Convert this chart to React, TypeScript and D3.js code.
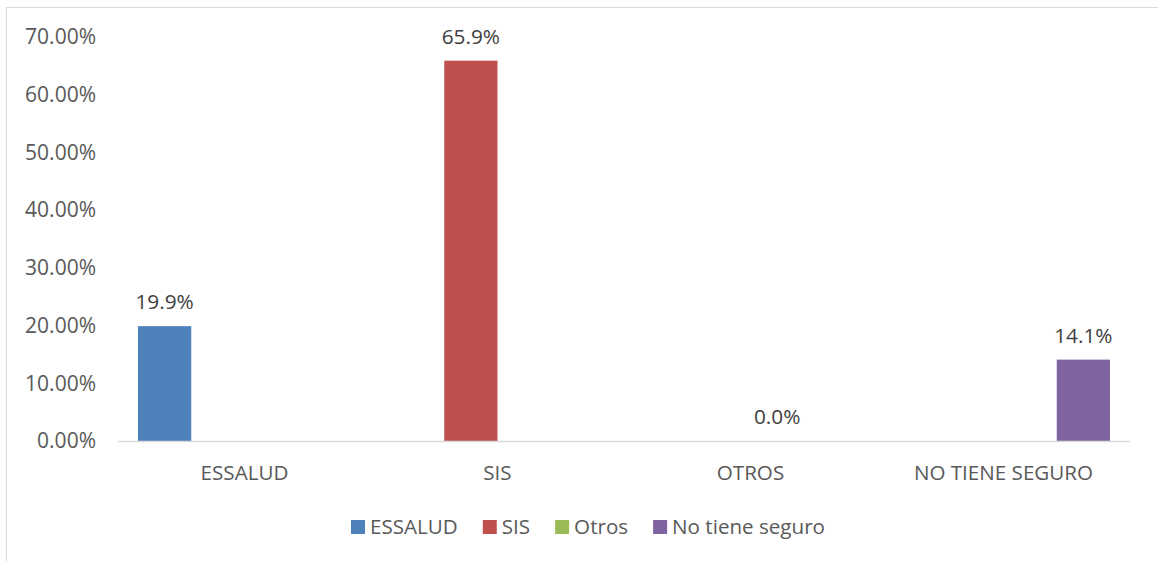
import { useEffect, useRef } from 'react'
import * as d3 from 'd3'

const categories = ['ESSALUD', 'SIS', 'OTROS', 'NO TIENE SEGURO']
const seriesNames = ['ESSALUD', 'SIS', 'Otros', 'No tiene seguro']
const seriesColors = ['#4f81bd', '#c0504d', '#9bbb59', '#8064a2']
// each category only carries its own series value
const values = [19.9, 65.9, 0.0, 14.1]
const yTicks = [0, 10, 20, 30, 40, 50, 60, 70]

const W = 1158
const H = 561
const FONT = '"Open Sans", sans-serif'

export default function App() {
  const svgRef = useRef<SVGSVGElement>(null)

  useEffect(() => {
    if (!svgRef.current) return
    const svg = d3.select(svgRef.current)
    svg.selectAll('*').remove()

    const margin = { left: 118, right: 28, top: 37, bottom: 120 }
    const innerW = W - margin.left - margin.right
    const innerH = H - margin.top - margin.bottom

    // chart frame (runs off the right / bottom edges)
    svg.append('rect')
      .attr('x', 6.5).attr('y', 7.5)
      .attr('width', W + 20).attr('height', H + 20)
      .attr('fill', '#fff')
      .attr('stroke', '#d9d9d9')

    const x0 = d3.scaleBand().domain(categories).range([0, innerW]).paddingInner(0).paddingOuter(0)
    const x1 = d3.scaleBand().domain(seriesNames).range([0, x0.bandwidth()])
      .paddingInner(0).paddingOuter(0.3756)
    const y = d3.scaleLinear().domain([0, 70]).range([innerH, 0])

    const g = svg.append('g').attr('transform', `translate(${margin.left},${margin.top})`)

    // y tick labels
    g.selectAll('.ytick')
      .data(yTicks)
      .enter().append('text')
      .attr('x', -22)
      .attr('y', d => y(d))
      .attr('dy', '0.35em')
      .attr('text-anchor', 'end')
      .style('font-family', FONT)
      .style('font-size', '21px')
      .style('fill', '#595959')
      .text(d => d.toFixed(2) + '%')

    // bars
    categories.forEach((c, i) => {
      const s = seriesNames[i]
      const bx = x0(c)! + x1(s)!
      g.append('rect')
        .attr('x', bx)
        .attr('y', y(values[i]))
        .attr('width', x1.bandwidth())
        .attr('height', innerH - y(values[i]))
        .attr('fill', seriesColors[i])

      g.append('text')
        .attr('x', bx + x1.bandwidth() / 2)
        .attr('y', y(values[i]) - 24)
        .attr('dy', '0.35em')
        .attr('text-anchor', 'middle')
        .style('font-family', FONT)
        .style('font-size', '20.8px')
        .style('fill', '#404040')
        .text(values[i].toFixed(1) + '%')
    })

    // x axis line
    g.append('line')
      .attr('x1', 0).attr('x2', innerW)
      .attr('y1', innerH + 0.5).attr('y2', innerH + 0.5)
      .attr('stroke', '#d9d9d9')
      .attr('stroke-width', 1.3)

    // category labels
    g.selectAll('.xlab')
      .data(categories)
      .enter().append('text')
      .attr('x', d => x0(d)! + x0.bandwidth() / 2)
      .attr('y', innerH + 32)
      .attr('dy', '0.35em')
      .attr('text-anchor', 'middle')
      .style('font-family', FONT)
      .style('font-size', '20.6px')
      .style('fill', '#595959')
      .text(d => d)

    // legend, centred on the chart area
    const leg = svg.append('g')
    let cx = 0
    seriesNames.forEach((s, i) => {
      const item = leg.append('g').attr('transform', `translate(${cx},0)`)
      item.append('rect')
        .attr('x', 0).attr('y', -7)
        .attr('width', 14).attr('height', 14)
        .attr('fill', seriesColors[i])
      const t = item.append('text')
        .attr('x', 19)
        .attr('y', 0)
        .attr('dy', '0.35em')
        .style('font-family', FONT)
        .style('font-size', '20.6px')
        .style('fill', '#595959')
        .text(s)
      const tw = (t.node() as SVGTextElement).getComputedTextLength()
      cx += 19 + tw + 25
    })
    const legW = cx - 25
    leg.attr('transform', `translate(${588 - legW / 2},527)`)
  }, [])

  return (
    <svg
      ref={svgRef}
      width={W}
      height={H}
      style={{ position: 'fixed', left: 0, top: 0, background: '#fff' }}
    />
  )
}
